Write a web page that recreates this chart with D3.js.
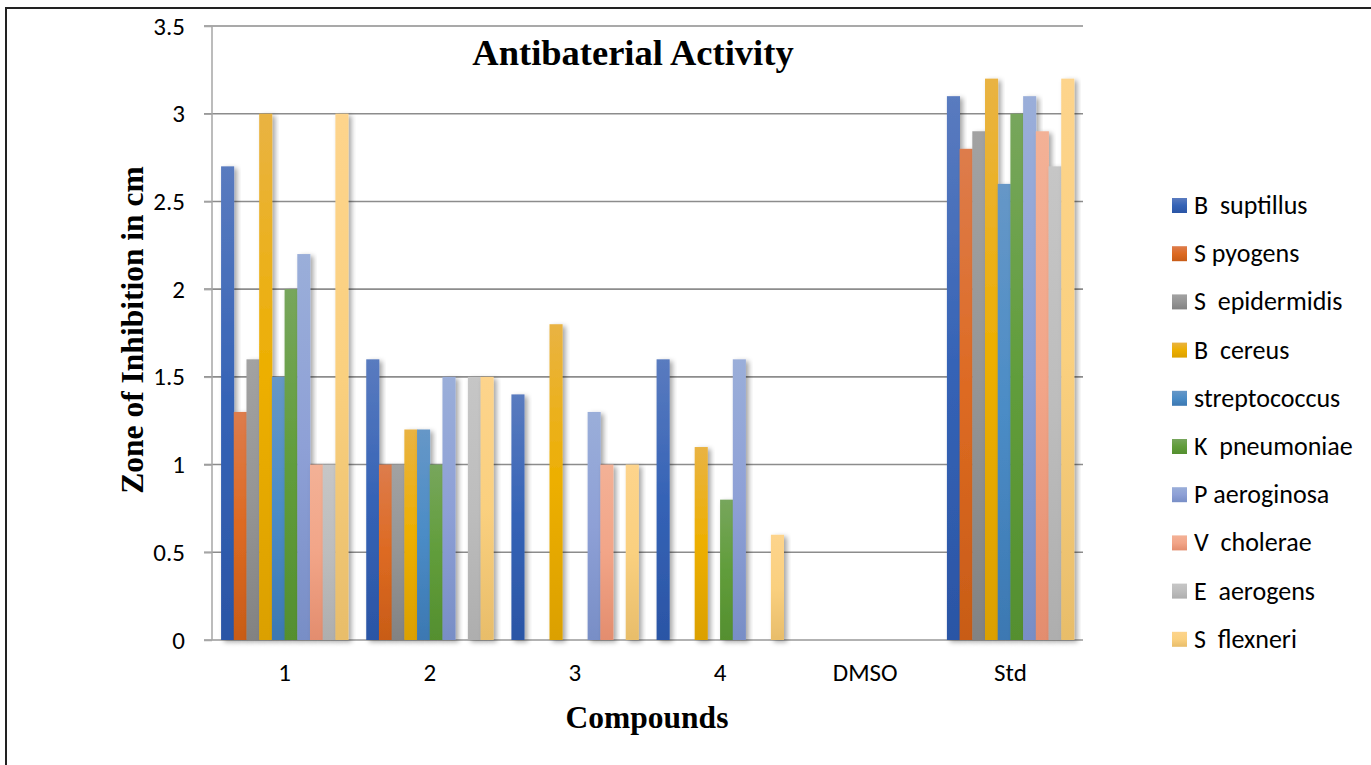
<!DOCTYPE html>
<html>
<head>
<meta charset="utf-8">
<script src="https://cdn.jsdelivr.net/npm/d3@7"></script>
<style>
  body { margin: 0; background: #fff; }
  svg { display: block; }
</style>
</head>
<body>
<script>
var width = 1371, height = 765;

// compounds on the x axis
var compounds = ['1', '2', '3', '4', 'DMSO', 'Std'];

// bacteria (legend order)
var bacteria = ['B  suptillus', 'S pyogens', 'S  epidermidis', 'B  cereus', 'streptococcus',
	'K  pneumoniae', 'P aeroginosa', 'V  cholerae', 'E  aerogens', 'S  flexneri'];

// zone of inhibition (cm) per bacterium, one value per compound
var bSuptillus = [2.7, 1.6, 1.4, 1.6, 0, 3.1];
var sPyogens = [1.3, 1.0, 0, 0, 0, 2.8];
var sEpidermidis = [1.6, 1.0, 0, 0, 0, 2.9];
var bCereus = [3.0, 1.2, 1.8, 1.1, 0, 3.2];
var streptococcus = [1.5, 1.2, 0, 0, 0, 2.6];
var kPneumoniae = [2.0, 1.0, 0, 0.8, 0, 3.0];
var pAeroginosa = [2.2, 1.5, 1.3, 1.6, 0, 3.1];
var vCholerae = [1.0, 0, 1.0, 0, 0, 2.9];
var eAerogens = [1.0, 1.5, 0, 0, 0, 2.7];
var sFlexneri = [3.0, 1.5, 1.0, 0.6, 0, 3.2];

var seriesValues = [bSuptillus, sPyogens, sEpidermidis, bCereus, streptococcus,
	kPneumoniae, pAeroginosa, vCholerae, eAerogens, sFlexneri];

var yTicks = [0, 0.5, 1, 1.5, 2, 2.5, 3, 3.5];

// office-ish palette: [top, middle, bottom]
var colors = [
	['#5a7bbf', '#3563b6', '#2b55a5'],
	['#dd7c4c', '#dd6a22', '#c85c17'],
	['#a2a2a2', '#959595', '#828282'],
	['#e9b343', '#edaf00', '#dba000'],
	['#6697c7', '#4b8cc6', '#3c78b2'],
	['#77a65c', '#619d3b', '#548f2f'],
	['#9aaed9', '#8ea0d6', '#788ec6'],
	['#f3b196', '#f2a588', '#e38d6e'],
	['#c6c6c6', '#bdbdbd', '#aeaeae'],
	['#fdd48c', '#fad07f', '#e8bd6a']
];

var margin = {left: 212, right: 1083, top: 26, bottom: 640};

var tickFont = 'Carlito, Lato, "Open Sans", sans-serif';
var serif = '"Liberation Serif", "Times New Roman", serif';

var x0 = d3.scaleBand()
	.domain(compounds)
	.range([margin.left, margin.right])
	.paddingInner(0.125)
	.paddingOuter(0.0625);

var band = d3.scaleBand()
	.domain(compounds)
	.range([margin.left, margin.right]);

var x1 = d3.scaleBand()
	.domain(d3.range(bacteria.length))
	.range([0, x0.bandwidth()]);

var y = d3.scaleLinear()
	.domain([0, 3.5])
	.range([margin.bottom, margin.top]);

var svg = d3.select('body')
	.append('svg')
	.attr('width', width)
	.attr('height', height);

var defs = svg.append('defs');

colors.forEach(function(c, i) {
	var g = defs.append('linearGradient')
		.attr('id', 'grad' + i)
		.attr('x1', 0).attr('y1', 0).attr('x2', 0).attr('y2', 1);
	g.append('stop').attr('offset', '0%').attr('stop-color', c[0]);
	g.append('stop').attr('offset', '50%').attr('stop-color', c[1]);
	g.append('stop').attr('offset', '100%').attr('stop-color', c[2]);
});

var shadow = defs.append('filter')
	.attr('id', 'shadow')
	.attr('x', '-50%').attr('y', '-10%')
	.attr('width', '200%').attr('height', '120%');
shadow.append('feDropShadow')
	.attr('dx', 3).attr('dy', 2)
	.attr('stdDeviation', 2.5)
	.attr('flood-color', '#000')
	.attr('flood-opacity', 0.35);

// outer border (top and left only visible)
svg.append('path')
	.attr('d', 'M6,' + height + 'V8H' + width)
	.attr('fill', 'none')
	.attr('stroke', '#222')
	.attr('stroke-width', 2);

// gridlines
svg.append('g')
	.selectAll('line')
	.data(yTicks)
	.enter().append('line')
	.attr('x1', 204)
	.attr('x2', margin.right)
	.attr('y1', function(d) { return y(d); })
	.attr('y2', function(d) { return y(d); })
	.attr('stroke', function(d) { return d === 0 ? '#999' : '#8c8c8c'; })
	.attr('stroke-width', 1.6);

// y axis line
svg.append('line')
	.attr('x1', margin.left).attr('x2', margin.left)
	.attr('y1', margin.top).attr('y2', margin.bottom)
	.attr('stroke', '#a6a6a6')
	.attr('stroke-width', 1.5);

var yAxis = svg.append('g')
	.attr('transform', 'translate(' + margin.left + ',0)')
	.call(d3.axisLeft(y).tickValues(yTicks).tickSize(8).tickPadding(19)
		.tickFormat(function(d) { return d; }));
yAxis.select('.domain').remove();
yAxis.selectAll('line').attr('stroke', '#a6a6a6').attr('stroke-width', 1.5);
yAxis.selectAll('text')
	.attr('font-family', tickFont)
	.attr('font-size', 25)
	.attr('fill', '#000');

var xAxis = svg.append('g')
	.attr('transform', 'translate(0,' + margin.bottom + ')')
	.call(d3.axisBottom(band).tickSize(0).tickPadding(23));
xAxis.select('.domain').remove();
xAxis.selectAll('text')
	.attr('font-family', tickFont)
	.attr('font-size', 25)
	.attr('fill', '#000');

// bars
var groups = svg.append('g')
	.selectAll('g')
	.data(compounds)
	.enter().append('g')
	.attr('transform', function(d) { return 'translate(' + x0(d) + ',0)'; });

groups.selectAll('rect')
	.data(function(d, ci) {
		return seriesValues.map(function(s, si) { return {si: si, v: s[ci]}; })
			.filter(function(e) { return e.v > 0; });
	})
	.enter().append('rect')
	.attr('x', function(d) { return x1(d.si); })
	.attr('width', x1.bandwidth() + 0.4)
	.attr('y', function(d) { return y(d.v); })
	.attr('height', function(d) { return y(0) - y(d.v); })
	.attr('fill', function(d) { return 'url(#grad' + d.si + ')'; })
	.attr('filter', 'url(#shadow)');

// title
svg.append('text')
	.attr('x', 633)
	.attr('y', 65)
	.attr('text-anchor', 'middle')
	.attr('font-family', serif)
	.attr('font-weight', 'bold')
	.attr('font-size', 36.5)
	.text('Antibaterial Activity');

svg.append('text')
	.attr('transform', 'translate(143,330) rotate(-90)')
	.attr('text-anchor', 'middle')
	.attr('font-family', serif)
	.attr('font-weight', 'bold')
	.attr('font-size', 31.5)
	.text('Zone of Inhibition in cm');

svg.append('text')
	.attr('x', 647)
	.attr('y', 728)
	.attr('text-anchor', 'middle')
	.attr('font-family', serif)
	.attr('font-weight', 'bold')
	.attr('font-size', 31.5)
	.text('Compounds');

// legend
var legend = svg.append('g')
	.selectAll('g')
	.data(bacteria)
	.enter().append('g')
	.attr('transform', function(d, i) { return 'translate(1172,' + (198 + i * 48.2) + ')'; });

legend.append('rect')
	.attr('width', 15)
	.attr('height', 15)
	.attr('fill', function(d, i) { return 'url(#grad' + i + ')'; });

legend.append('text')
	.attr('x', 22)
	.attr('y', 16)
	.attr('font-family', tickFont)
	.attr('font-size', 26)
	.style('white-space', 'pre')
	.attr('xml:space', 'preserve')
	.text(function(d) { return d; });
</script>
</body>
</html>
